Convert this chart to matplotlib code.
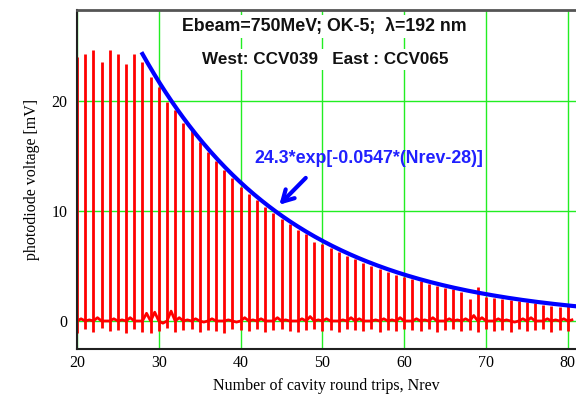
import numpy as np
import matplotlib
matplotlib.use("Agg")
import matplotlib.pyplot as plt

# ---- data ----
nrev = list(range(20, 81))
peaks = [24.0, 24.3, 24.7, 23.6, 24.7, 24.3, 23.4, 24.3, 23.6, 22.2,
         21.3, 19.9, 19.2, 18.0, 17.4, 16.3, 15.4, 14.6, 13.7, 13.0,
         12.2, 11.6, 11.0, 10.4, 9.8, 9.3, 8.8, 8.3, 7.9, 7.2,
         7.0, 6.6, 6.3, 5.9, 5.6, 5.3, 5.0, 4.7, 4.5, 4.2,
         4.0, 3.8, 3.6, 3.4, 3.2, 3.0, 2.9, 2.6, 2.0, 3.1,
         2.2, 2.1, 2.0, 1.9, 1.8, 1.7, 1.6, 1.5, 1.4, 1.3, 1.5]
dips = [-1.1, -0.7, -1.0, -0.6, -0.9, -0.8, -1.1, -0.7, -1.0, -1.1,
        -0.9, -0.6, -1.0, -0.8, -0.7, -1.0, -0.8, -0.9, -1.1, -0.7,
        -0.8, -0.9, -0.7, -1.0, -0.8, -0.7, -0.9, -1.0, -0.8, -0.7,
        -0.9, -0.8, -1.0, -0.7, -0.8, -0.9, -0.7, -1.0, -0.8, -0.9,
        -0.7, -0.8, -0.9, -0.7, -1.0, -0.8, -0.7, -0.9, -0.8, -1.0,
        -0.7, -0.9, -0.8, -1.0, -0.7, -0.9, -0.8, -0.7, -1.0, -0.8, -0.9]
baseline = [0.2, 0.1, 0.3, 0.0, 0.2, 0.1, 0.3, 0.0, 0.7, 0.8,
            -0.2, 0.9, 0.3, 0.1, 0.2, -0.1, 0.2, 0.0, 0.1, -0.1,
            0.3, 0.1, 0.2, 0.0, 0.3, 0.1, 0.0, 0.2, 0.4, 0.1,
            0.2, 0.0, 0.1, 0.3, 0.2, 0.0, 0.1, 0.2, 0.1, 0.3,
            0.0, 0.2, 0.1, 0.3, 0.0, 0.2, 0.1, 0.2, 0.5, 0.3,
            0.0, 0.2, 0.1, -0.1, 0.2, 0.3, 0.0, 0.2, 0.1, 0.2, 0.1]
fit_amp, fit_rate, fit_n0 = 24.3, 0.0547, 28
title1 = "Ebeam=750MeV; OK-5;  \u03bb=192 nm"
title2 = "West: CCV039   East : CCV065"
fit_label = "24.3*exp[-0.0547*(Nrev-28)]"
xticks = [20, 30, 40, 50, 60, 70, 80]
yticks = [0, 10, 20]

fig = plt.figure(figsize=(5.76, 3.94), dpi=100)
ax = fig.add_axes([0.1337, 0.1142, 0.8663, 0.8604])
ax.set_xlim(20, 81)
ax.set_ylim(-2.55, 28.3)

ax.grid(True, color="#22ee22", lw=1.0, zorder=0)
ax.set_axisbelow(True)

red = "#ff0000"
ax.vlines(nrev, dips, peaks, color=red, lw=2.0, zorder=2)
bx, by = [], []
for n, b in zip(nrev, baseline):
    bx += [n, n + 0.5]
    by += [0.0, b]
ax.plot(bx, by, color=red, lw=2.0, zorder=2)

xf = np.linspace(fit_n0, 81, 300)
ax.plot(xf, fit_amp * np.exp(-fit_rate * (xf - fit_n0)), color="#0000ff", lw=3.0, zorder=3)

ax.set_xticks(xticks)
ax.set_yticks(yticks)
ax.tick_params(axis="x", length=0, pad=4, labelsize=11.5)
ax.tick_params(axis="y", length=0, pad=7, labelsize=11.5)
for lab in ax.get_xticklabels() + ax.get_yticklabels():
    lab.set_family("Liberation Serif")
ax.set_xlabel("Number of cavity round trips, Nrev", family="Liberation Serif", fontsize=11.5, labelpad=5)
ax.set_ylabel("photodiode voltage [mV]", family="Liberation Serif", fontsize=11.5, labelpad=8)

for s in ["left", "bottom"]:
    ax.spines[s].set_color("#202020")
    ax.spines[s].set_linewidth(1.5)
ax.spines["top"].set_color("#555555")
ax.spines["top"].set_linewidth(2.0)
ax.spines["right"].set_visible(False)

bbox = dict(facecolor="white", edgecolor="none", pad=2)
ax.text(50.2, 26.8, title1, ha="center", va="center", fontsize=12.8, fontweight="bold",
        family=["Liberation Sans", "DejaVu Sans"], color="#111111", bbox=bbox, zorder=5)
ax.text(50.4, 23.8, title2, ha="center", va="center", fontsize=12.3, fontweight="bold",
        family=["Liberation Sans", "DejaVu Sans"], color="#111111", bbox=bbox, zorder=5)
ax.text(55.7, 14.8, fit_label, ha="center", va="center", fontsize=12.8, fontweight="bold",
        family="Liberation Sans", color="#2020ff", zorder=5)
ax.annotate("", xy=(44.5, 10.4), xytext=(48.2, 13.2),
            arrowprops=dict(arrowstyle="->,head_length=0.8,head_width=0.45", color="#0000ff", lw=3.0),
            zorder=5)

fig.savefig("out.png", dpi=100)
